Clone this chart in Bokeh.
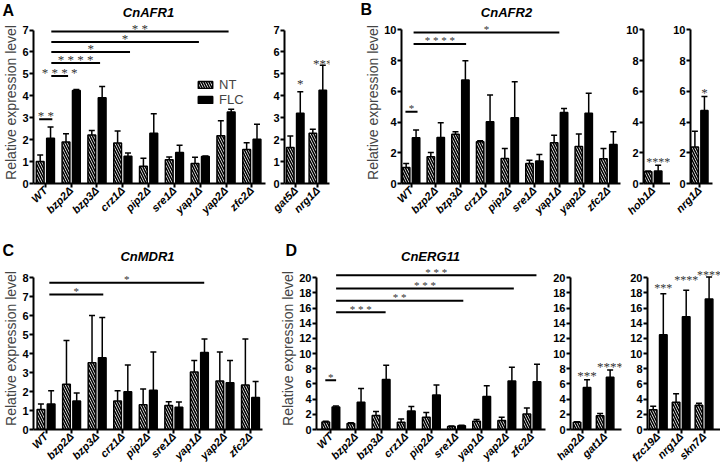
import math
from bokeh.plotting import figure
from bokeh.models import (ColumnDataSource, FixedTicker, Whisker, TeeHead, Legend,
                          LegendItem, Label, LabelSet, Range1d)
from bokeh.layouts import row, column
from bokeh.embed import file_html
from bokeh.resources import INLINE

FONT = "Liberation Sans"
STAR_COLOR = "#333333"

# ------------------------------------------------------------------ data
main_cats = ["WT", "bzp2Δ", "bzp3Δ", "crz1Δ", "pip2Δ", "sre1Δ", "yap1Δ", "yap2Δ", "zfc2Δ"]

# A  CnAFR1
afr1_nt = [1.00, 1.89, 2.21, 1.85, 0.79, 1.08, 0.91, 2.18, 1.55]
afr1_nt_sd = [0.30, 0.38, 0.21, 0.54, 0.36, 0.13, 0.29, 0.68, 0.31]
afr1_flc = [2.06, 4.24, 3.91, 1.24, 2.29, 1.41, 1.23, 3.26, 2.02]
afr1_flc_sd = [0.52, 0.05, 0.51, 0.15, 0.89, 0.33, 0.02, 0.13, 0.68]
afr1_sig_x0 = [-0.24, 0.23, 0.23, 0.23, 0.23, 0.23]
afr1_sig_x1 = [0.27, 0.88, 2.12, 3.28, 5.95, 7.10]
afr1_sig_y = [2.93, 4.90, 5.50, 6.00, 6.46, 6.93]
afr1_sig_txt = ["**", "****", "****", "*", "*", "**"]

afr1b_cats = ["gat5Δ", "nrg1Δ"]
afr1b_nt = [1.64, 2.29]
afr1b_nt_sd = [0.53, 0.18]
afr1b_flc = [3.20, 4.25]
afr1b_flc_sd = [0.99, 1.14]
afr1b_star = ["*", "***"]
afr1b_star_y = [4.70, 5.60]

# B  CnAFR2
afr2_nt = [1.04, 1.74, 3.20, 2.72, 1.63, 1.30, 2.65, 2.41, 1.61]
afr2_nt_sd = [0.26, 0.28, 0.17, 0.06, 0.65, 0.22, 0.50, 0.81, 0.67]
afr2_flc = [2.98, 3.00, 6.74, 4.02, 4.28, 1.46, 4.63, 4.57, 2.54]
afr2_flc_sd = [0.50, 0.96, 1.26, 1.74, 2.35, 0.43, 0.26, 1.30, 0.83]
afr2_sig_x0 = [-0.23, 0.10, 0.10]
afr2_sig_x1 = [0.26, 2.23, 6.01]
afr2_sig_y = [4.67, 9.09, 9.83]
afr2_sig_txt = ["*", "****", "*"]

afr2b_cats = ["hob1Δ"]
afr2b_nt = [0.76]
afr2b_nt_sd = [0.05]
afr2b_flc = [0.82]
afr2b_flc_sd = [0.37]
afr2b_star = ["****"]
afr2b_star_y = [1.60]

afr2c_cats = ["nrg1Δ"]
afr2c_nt = [2.38]
afr2c_nt_sd = [1.02]
afr2c_flc = [4.76]
afr2c_flc_sd = [0.91]
afr2c_star = ["*"]
afr2c_star_y = [6.10]

# C  CnMDR1
mdr1_nt = [1.06, 2.39, 3.52, 1.50, 1.31, 1.27, 3.03, 2.56, 2.35]
mdr1_nt_sd = [0.28, 2.30, 2.49, 0.54, 0.82, 0.19, 0.61, 1.52, 2.42]
mdr1_flc = [1.34, 1.50, 3.78, 1.99, 2.07, 1.17, 4.06, 2.46, 1.69]
mdr1_flc_sd = [0.70, 0.43, 2.13, 1.41, 2.02, 0.28, 0.71, 1.18, 0.84]
mdr1_sig_x0 = [0.13, 0.13]
mdr1_sig_x1 = [2.24, 6.19]
mdr1_sig_y = [7.12, 7.74]
mdr1_sig_txt = ["*", "*"]

# D  CnERG11
erg11_nt = [1.00, 0.80, 1.85, 0.95, 1.60, 0.40, 1.10, 1.20, 2.05]
erg11_nt_sd = [0.08, 0.08, 0.52, 0.43, 0.65, 0.07, 0.22, 0.43, 0.78]
erg11_flc = [2.95, 3.60, 6.60, 2.45, 4.55, 0.50, 4.35, 6.40, 6.30]
erg11_flc_sd = [0.15, 1.80, 1.87, 0.57, 1.31, 0.05, 1.40, 1.79, 2.31]
erg11_sig_x0 = [-0.22, 0.21, 0.21, 0.21, 0.21]
erg11_sig_x1 = [0.21, 2.18, 5.27, 7.28, 8.18]
erg11_sig_y = [6.49, 15.46, 16.97, 18.59, 20.33]
erg11_sig_txt = ["*", "***", "**", "***", "***"]

erg11b_cats = ["hap2Δ", "gat1Δ"]
erg11b_nt = [0.95, 1.80]
erg11b_nt_sd = [0.06, 0.30]
erg11b_flc = [5.55, 6.90]
erg11b_flc_sd = [1.00, 0.95]
erg11b_star = ["***", "****"]
erg11b_star_y = [7.5, 8.7]

erg11c_cats = ["fzc19Δ", "nrg1Δ", "skn7Δ"]
erg11c_nt = [2.60, 3.60, 3.20]
erg11c_nt_sd = [0.45, 1.10, 0.25]
erg11c_flc = [12.50, 14.85, 17.20]
erg11c_flc_sd = [5.40, 3.50, 2.90]
erg11c_star = ["***", "****", "****"]
erg11c_star_y = [19.0, 20.1, 20.7]

titles = ["CnAFR1", "CnAFR2", "CnMDR1", "CnERG11"]
letters = ["A", "B", "C", "D"]


def spaced(s):
    return " ".join(list(s))


def make_panel(cats, nt, nt_sd, flc, flc_sd, W, H, bl, br, bt, bb, xr, yr,
               ymax, ystep, ylabel=False, sig=None, sig_size="11px", stars=None,
               star_size="13px"):
    fw = W - bl - br
    fh = H - bt - bb
    upx = fw / (xr[1] - xr[0])
    upy = fh / (yr[1] - yr[0])
    p = figure(width=W, height=H, x_range=Range1d(*xr), y_range=Range1d(*yr),
               min_border_left=bl, min_border_right=br, min_border_top=bt,
               min_border_bottom=bb, toolbar_location=None, output_backend="svg")
    p.xgrid.visible = False
    p.ygrid.visible = False
    p.outline_line_color = None
    p.background_fill_color = "white"
    p.border_fill_color = "white"

    bw = 7.8 / upx
    off = 5.2 / upx
    xs = list(range(len(cats)))
    src_nt = ColumnDataSource(dict(x=[i - off for i in xs], top=nt,
                                   up=[m + s for m, s in zip(nt, nt_sd)]))
    src_flc = ColumnDataSource(dict(x=[i + off for i in xs], top=flc,
                                    up=[m + s for m, s in zip(flc, flc_sd)]))
    for src in (src_nt, src_flc):
        p.add_layout(Whisker(source=src, base="x", lower="top", upper="up",
                             dimension="height", line_width=1.5, line_color="black",
                             upper_head=TeeHead(size=6, line_width=1.5, line_color="black"),
                             lower_head=None))
    r_nt = p.vbar(x="x", top="top", bottom=0, width=bw, source=src_nt,
                  fill_color="white", line_color="black", line_width=1.5,
                  hatch_pattern="left_diagonal_line", hatch_color="black",
                  hatch_scale=5, hatch_weight=1.6)
    r_flc = p.vbar(x="x", top="top", bottom=0, width=bw, source=src_flc,
                   fill_color="black", line_color="black", line_width=1.5)

    xa = p.xaxis[0]
    ya = p.yaxis[0]
    xa.ticker = FixedTicker(ticks=xs, minor_ticks=[])
    xa.major_label_overrides = {i: c for i, c in enumerate(cats)}
    xa.major_label_orientation = math.pi / 4
    xa.major_label_text_font_style = "bold italic"
    n_ticks = int(round(ymax / ystep))
    ya.ticker = FixedTicker(ticks=[k * ystep for k in range(n_ticks + 1)], minor_ticks=[])
    ya.bounds = (0, ymax)
    ya.major_label_text_font_style = "bold"
    for ax in (xa, ya):
        ax.axis_line_width = 2
        ax.axis_line_color = "black"
        ax.major_tick_line_width = 2
        ax.major_tick_in = 0
        ax.major_tick_out = 4
        ax.minor_tick_line_color = None
        ax.major_label_text_font = FONT
        ax.major_label_text_font_size = "11px"
        ax.major_label_text_color = "black"
        ax.major_label_standoff = 1
    if ylabel:
        ya.axis_label = "Relative expression level"
        ya.axis_label_text_font = FONT
        ya.axis_label_text_font_style = "normal"
        ya.axis_label_text_font_size = "14px"
        ya.axis_label_standoff = 0

    if sig is not None:
        x0, x1, ys, txt = sig
        p.segment(x0=x0, y0=ys, x1=x1, y1=ys, line_color="black", line_width=2)
        ssrc = ColumnDataSource(dict(x=[(a + b) / 2 for a, b in zip(x0, x1)],
                                     y=[v + 3.5 / upy for v in ys],
                                     t=[spaced(t) for t in txt]))
        p.add_layout(LabelSet(x="x", y="y", text="t", source=ssrc, text_align="center",
                              text_baseline="middle", text_font=FONT,
                              text_font_size=sig_size, text_color=STAR_COLOR))
    if stars is not None:
        txt, ys = stars
        ssrc = ColumnDataSource(dict(x=[i + off for i in xs],
                                     y=[v - 3.0 / upy for v in ys], t=txt))
        p.add_layout(LabelSet(x="x", y="y", text="t", source=ssrc, text_align="center",
                              text_baseline="middle", text_font=FONT,
                              text_font_size=star_size, text_color=STAR_COLOR))
    return p, r_nt, r_flc


def header(width, height, items):
    h = figure(width=width, height=height, x_range=Range1d(0, width),
               y_range=Range1d(height, 0), toolbar_location=None, output_backend="svg",
               min_border_left=0, min_border_right=0, min_border_top=0, min_border_bottom=0)
    h.axis.visible = False
    h.xgrid.visible = False
    h.ygrid.visible = False
    h.outline_line_color = None
    h.border_fill_color = "white"
    h.background_fill_color = "white"
    for (x, y, text, size, style, align) in items:
        h.add_layout(Label(x=x, y=y, text=text, text_font=FONT, text_font_size=size,
                           text_font_style=style, text_align=align, text_baseline="middle",
                           text_color="black"))
    return h


# ------------------------------------------------------------------ top row
TH = 220
BT1, BB1 = 1, 57
pA, rA_nt, rA_flc = make_panel(main_cats, afr1_nt, afr1_nt_sd, afr1_flc, afr1_flc_sd,
                               270, TH, 32, 5, BT1, BB1, (-0.46, 8.53), (0, 7.39), 7, 1,
                               ylabel=True, sig_size="13px",
                               sig=(afr1_sig_x0, afr1_sig_x1, afr1_sig_y, afr1_sig_txt))
legend = Legend(items=[LegendItem(label="NT", renderers=[rA_nt]),
                       LegendItem(label="FLC", renderers=[rA_flc])],
                location=(163, 76), glyph_width=18, glyph_height=9, label_height=9,
                label_width=20, label_standoff=5, spacing=-4, padding=0, margin=0,
                border_line_color=None, background_fill_alpha=0,
                label_text_font=FONT, label_text_font_size="13px")
pA.add_layout(legend)

pA2, _, _ = make_panel(afr1b_cats, afr1b_nt, afr1b_nt_sd, afr1b_flc, afr1b_flc_sd,
                       92, TH, 12, 33, BT1, BB1, (-0.48, 1.52), (0, 7.39), 7, 1,
                       stars=(afr1b_star, afr1b_star_y))

pB, _, _ = make_panel(main_cats, afr2_nt, afr2_nt_sd, afr2_flc, afr2_flc_sd,
                      261, TH, 28, 3, BT1, BB1, (-0.39, 8.49), (0, 10.55), 10, 2,
                      ylabel=True,
                      sig=(afr2_sig_x0, afr2_sig_x1, afr2_sig_y, afr2_sig_txt))
pB2, _, _ = make_panel(afr2b_cats, afr2b_nt, afr2b_nt_sd, afr2b_flc, afr2b_flc_sd,
                       47, TH, 19, 0, BT1, BB1, (-0.4, 0.72), (0, 10.55), 10, 2,
                       stars=(afr2b_star, afr2b_star_y), star_size="12px")
pB3, _, _ = make_panel(afr2c_cats, afr2c_nt, afr2c_nt_sd, afr2c_flc, afr2c_flc_sd,
                       50, TH, 18, 8, BT1, BB1, (-0.4, 0.56), (0, 10.55), 10, 2,
                       stars=(afr2c_star, afr2c_star_y))

# ------------------------------------------------------------------ bottom row
BH = 204
BT2, BB2 = 1, 40
pC, _, _ = make_panel(main_cats, mdr1_nt, mdr1_nt_sd, mdr1_flc, mdr1_flc_sd,
                      277, BH, 29, 15, BT2, BB2, (-0.49, 8.47), (0, 8.54), 8, 1,
                      ylabel=True,
                      sig=(mdr1_sig_x0, mdr1_sig_x1, mdr1_sig_y, mdr1_sig_txt))
pD, _, _ = make_panel(main_cats, erg11_nt, erg11_nt_sd, erg11_flc, erg11_flc_sd,
                      273, BH, 34, 5, BT2, BB2, (-0.57, 8.54), (0, 21.35), 20, 2,
                      ylabel=True,
                      sig=(erg11_sig_x0, erg11_sig_x1, erg11_sig_y, erg11_sig_txt))
pD2, _, _ = make_panel(erg11b_cats, erg11b_nt, erg11b_nt_sd, erg11b_flc, erg11b_flc_sd,
                       77, BH, 18, 6, BT2, BB2, (-0.5, 1.71), (0, 21.35), 20, 2,
                       stars=(erg11b_star, erg11b_star_y))
pD3, _, _ = make_panel(erg11c_cats, erg11c_nt, erg11c_nt_sd, erg11c_flc, erg11c_flc_sd,
                       93, BH, 18, 0, BT2, BB2, (-0.47, 2.72), (0, 21.35), 20, 2,
                       stars=(erg11c_star, erg11c_star_y), star_size="12px")

# ------------------------------------------------------------------ headers (titles, letters)
h1 = header(720, 20, [
    (2, 10, letters[0], "16px", "bold", "left"),
    (148, 12, titles[0], "13px", "bold italic", "center"),
    (360, 9, letters[1], "16px", "bold", "left"),
    (506, 12, titles[1], "13px", "bold italic", "center"),
])
h2 = header(720, 26, [
    (2, 10, letters[2], "16px", "bold", "left"),
    (147, 16, titles[2], "13px", "bold italic", "center"),
    (285, 10, letters[3], "16px", "bold", "left"),
    (430, 16, titles[3], "13px", "bold italic", "center"),
])

layout = column(h1,
                row(pA, pA2, pB, pB2, pB3, spacing=0),
                h2,
                row(pC, pD, pD2, pD3, spacing=0), spacing=0)

open("out.html", "w").write(file_html(layout, INLINE))
